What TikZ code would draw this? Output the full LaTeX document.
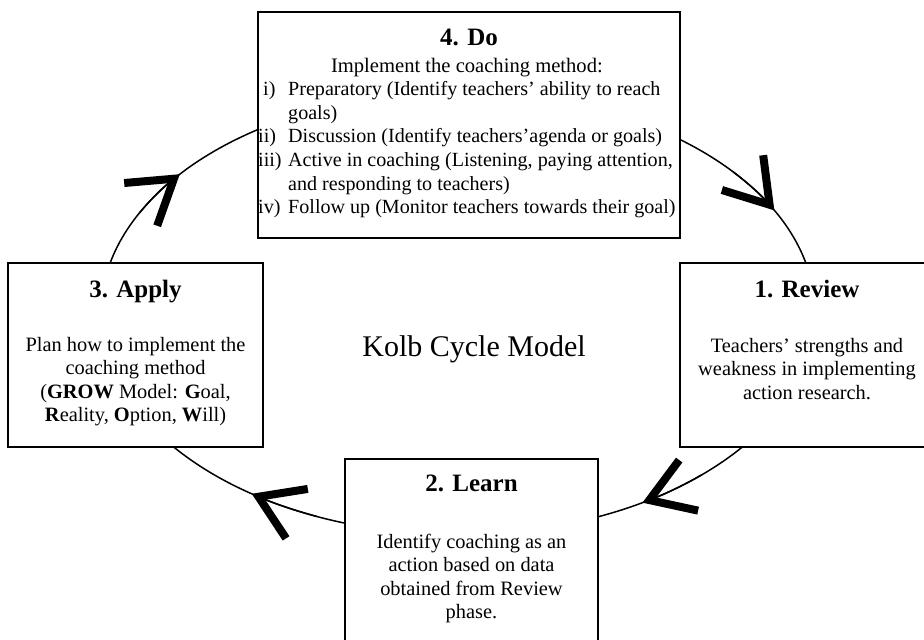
\documentclass[tikz,border=0pt]{standalone}
\usepackage{fontspec}
\setmainfont{Liberation Serif}
\usetikzlibrary{arrows.meta}
\newcommand{\phaselines}[1]{\begin{tabular}[t]{@{}c@{}}#1\end{tabular}}
\tikzset{
	phasestyle/.style={rectangle,draw=black,line width=2pt,fill=white,inner sep=0pt},
	headstyle/.style={anchor=base,inner sep=0pt,font=\fontsize{25}{28}\selectfont\bfseries},
	textstyle/.style={anchor=base,inner sep=0pt,font=\fontsize{20.4}{23.6}\selectfont},
	barbstyle/.style={line width=1.5pt,-{Straight Barb[length=42pt,width=54pt,line width=8pt]}}
}

\begin{document}
\begin{tikzpicture}[x=1pt,y=1pt]
	\useasboundingbox (0,0) rectangle (924,-640);
	% the cycle
	\coordinate (cyc) at (458,-313);
	\draw[line width=1.5pt] (cyc) ellipse [x radius=357,y radius=221.5];
	\foreach \t in {141.2,27.6,-58.9,-125.3}
		\draw[barbstyle] (cyc) ++(\t+12:357 and 221.5) arc[start angle=\t+12,end angle=\t,x radius=357,y radius=221.5];
	% phases
	\node[phasestyle,minimum width=422pt,minimum height=226pt] (do) at (469,-125) {};
	\node[headstyle] (dohead) at (469,-45) {4. Do};
	\node[textstyle,anchor=base west,font=\fontsize{20.1}{23.6}\selectfont] (dotext) at (258,-72) {\begin{tabular}[t]{@{}p{30pt}@{}l@{}}
		\multicolumn{2}{c}{\fontsize{20.6}{23.6}\selectfont Implement the coaching method:}\\
		\hspace{5pt}i) & Preparatory (Identify teachers’ ability to reach\\
		& goals)\\
		ii) & Discussion (Identify teachers’agenda or goals)\\
		iii) & Active in coaching (Listening, paying attention,\\
		& and responding to teachers)\\
		iv) & Follow up (Monitor teachers towards their goal)
	\end{tabular}};
	\node[phasestyle,minimum width=255pt,minimum height=184pt] (apply) at (135.5,-355) {};
	\node[headstyle] (applyhead) at (135.5,-297) {3. Apply};
	\node[textstyle] (applytext) at (135.5,-351) {\phaselines{Plan how to implement the\\coaching method\\ (\textbf{GROW} Model: \textbf{G}oal,\\\textbf{R}eality, \textbf{O}ption, \textbf{W}ill)}};
	\node[phasestyle,minimum width=254pt,minimum height=184pt] (review) at (807,-355) {};
	\node[headstyle] (reviewhead) at (807,-297) {1. Review};
	\node[textstyle] (reviewtext) at (807,-352) {\phaselines{Teachers’ strengths and\\weakness in implementing\\action research.}};
	\node[phasestyle,minimum width=253pt,minimum height=206pt] (learn) at (471.5,-562) {};
	\node[headstyle] (learnhead) at (471.5,-491) {2. Learn};
	\node[textstyle] (learntext) at (471.5,-548) {\phaselines{Identify coaching as an\\action based on data\\obtained from Review\\phase.}};
	\node[anchor=base,inner sep=0pt,font=\fontsize{30}{36}\selectfont] (kolb) at (474,-356) {Kolb Cycle Model};
\end{tikzpicture}
\end{document}
